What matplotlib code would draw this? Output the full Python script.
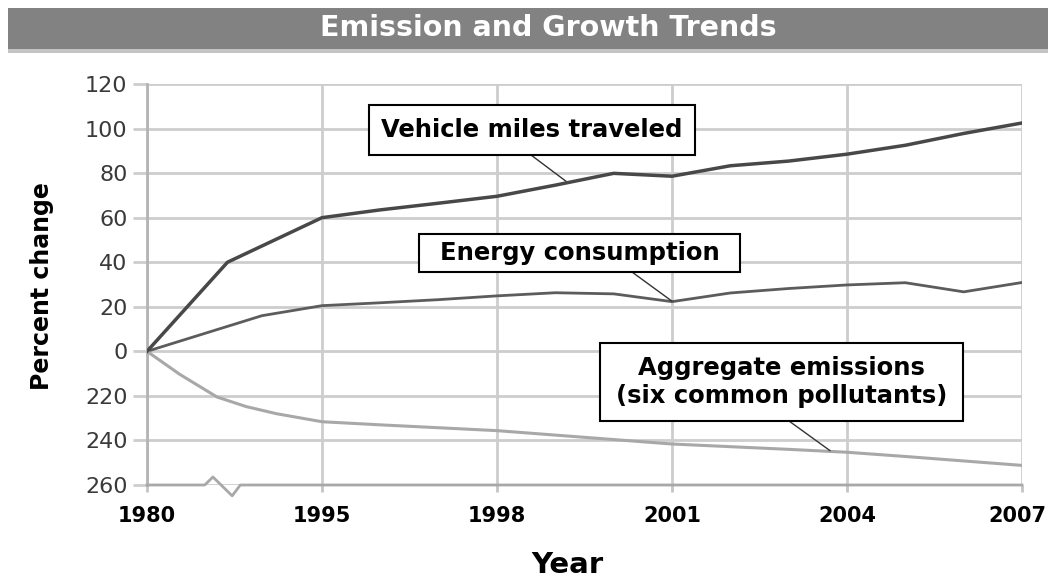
import matplotlib.pyplot as plt
import matplotlib.transforms as mtransforms
from matplotlib.patches import Rectangle

# data; 1980 sits at position 1992 (axis is broken before 1995)
years = list(range(1995, 2008))
vehicle_miles = [60, 63.5, 66.5, 69.6, 74.6, 79.9, 78.6, 83.3, 85.4, 88.5, 92.5, 97.8, 102.5]
energy_use = [20.5, 21.8, 23.2, 24.9, 26.3, 25.8, 22.3, 26.2, 28.2, 29.8, 30.8, 26.7, 30.9]
emissions = [-31.6, -33.0, -34.3, -35.6, -37.6, -39.6, -41.6, -42.8, -44.0, -45.3, -47.2, -49.2, -51.2]

# points inside the compressed 1980-1995 stretch
vehicle_early_x = [1992, 1993.38]
vehicle_early_y = [0, 40]
energy_early_x = [1992, 1993.97]
energy_early_y = [0, 16]
emis_early_x = [1992, 1992.56, 1993.2, 1993.7, 1994.22]
emis_early_y = [0, -10.3, -20.5, -24.8, -28]

xtick_pos = [1992, 1995, 1998, 2001, 2004, 2007]
xtick_labels = ['1980', '1995', '1998', '2001', '2004', '2007']
ytick_vals = [120, 100, 80, 60, 40, 20, 0, -20, -40, -60]
ytick_labels = ['120', '100', '80', '60', '40', '20', '0', '220', '240', '260']

W, H = 1048, 578
fig = plt.figure(figsize=(W / 100, H / 100), dpi=100)
plt.rcParams['font.family'] = 'DejaVu Sans'


def px(x, y):
    # pixel (top-left origin) -> figure fraction
    return (x / W, 1 - y / H)


ax = fig.add_axes([147 / W, 1 - 485 / H, (1022 - 147) / W, (485 - 84) / H])

ax.plot(vehicle_early_x + years, vehicle_early_y + vehicle_miles, color='#484848', lw=2.5, zorder=4)
ax.plot(energy_early_x + years, energy_early_y + energy_use, color='#5c5c5c', lw=2.0, zorder=3)
ax.plot(emis_early_x + years, emis_early_y + emissions, color='#a8a8a8', lw=2.2, zorder=3)

ax.set_xlim(1992, 2007)
ax.set_ylim(-60, 120)
ax.set_xticks(xtick_pos)
ax.set_xticklabels(xtick_labels, fontsize=15, fontweight='bold')
ax.set_yticks(ytick_vals)
ax.set_yticklabels(ytick_labels, fontsize=16, color='#3a3a3a')
ax.grid(color='#cdcdcd', lw=2)
ax.set_axisbelow(True)
ax.tick_params(axis='y', length=10, width=2, color='#cdcdcd', pad=4)
ax.tick_params(axis='x', length=5, width=2, color='#c4c4c4', pad=10)

# last year label sits against the right edge, nudge it in a little
last = ax.get_xticklabels()[-1]
last.set_transform(last.get_transform() + mtransforms.ScaledTranslation(-5 / 100, 0, fig.dpi_scale_trans))

for s in ['top', 'right', 'bottom']:
    ax.spines[s].set_visible(False)
ax.spines['left'].set_color('#b4b4b4')
ax.spines['left'].set_linewidth(2)

# bottom axis line with the break mark
trans = mtransforms.blended_transform_factory(ax.transData, ax.transAxes)
ax.plot([1992, 1992.99, 1993.13, 1993.46, 1993.6, 2007], [0, 0, 0.02, -0.027, 0, 0],
        color='#a8a8a8', lw=2, transform=trans, clip_on=False, zorder=5)

# title banner
fig.patches.append(Rectangle(px(8, 49), (W - 8) / W, 41 / H, transform=fig.transFigure,
                             facecolor='#828282', edgecolor='none'))
fig.patches.append(Rectangle(px(8, 53), (W - 8) / W, 4 / H, transform=fig.transFigure,
                             facecolor='#c4c4c4', edgecolor='none'))
fig.text(*px(548, 28), 'Emission and Growth Trends', color='white', fontsize=20.5,
         fontweight='bold', ha='center', va='center')

fig.text(*px(42, 286), 'Percent change', rotation=90, fontsize=17, fontweight='bold',
         ha='center', va='center')
fig.text(*px(567, 565), 'Year', fontsize=21, fontweight='bold', ha='center', va='center')


def callout(x0, y0, x1, y1, text, start, tip):
    fig.patches.append(Rectangle(px(x0, y1), (x1 - x0) / W, (y1 - y0) / H, transform=fig.transFigure,
                                 facecolor='white', edgecolor='black', lw=1.5, zorder=5))
    fig.text(*px((x0 + x1) / 2, (y0 + y1) / 2), text, fontsize=17.5, fontweight='bold',
             ha='center', va='center', multialignment='center', linespacing=1.2, zorder=6)
    ax.annotate('', xy=tip, xycoords='data', xytext=px(*start), textcoords='figure fraction',
                arrowprops=dict(arrowstyle='-', color='#333333', lw=1, shrinkA=0, shrinkB=0))


callout(369, 105, 695, 155, 'Vehicle miles traveled', (531, 155), (1999.2, 76))
callout(419, 234, 740, 272, 'Energy consumption', (632, 272), (2001, 22.5))
callout(600, 343, 963, 421, 'Aggregate emissions\n(six common pollutants)', (789, 421), (2003.71, -44.6))

plt.savefig('out.png', dpi=100)
